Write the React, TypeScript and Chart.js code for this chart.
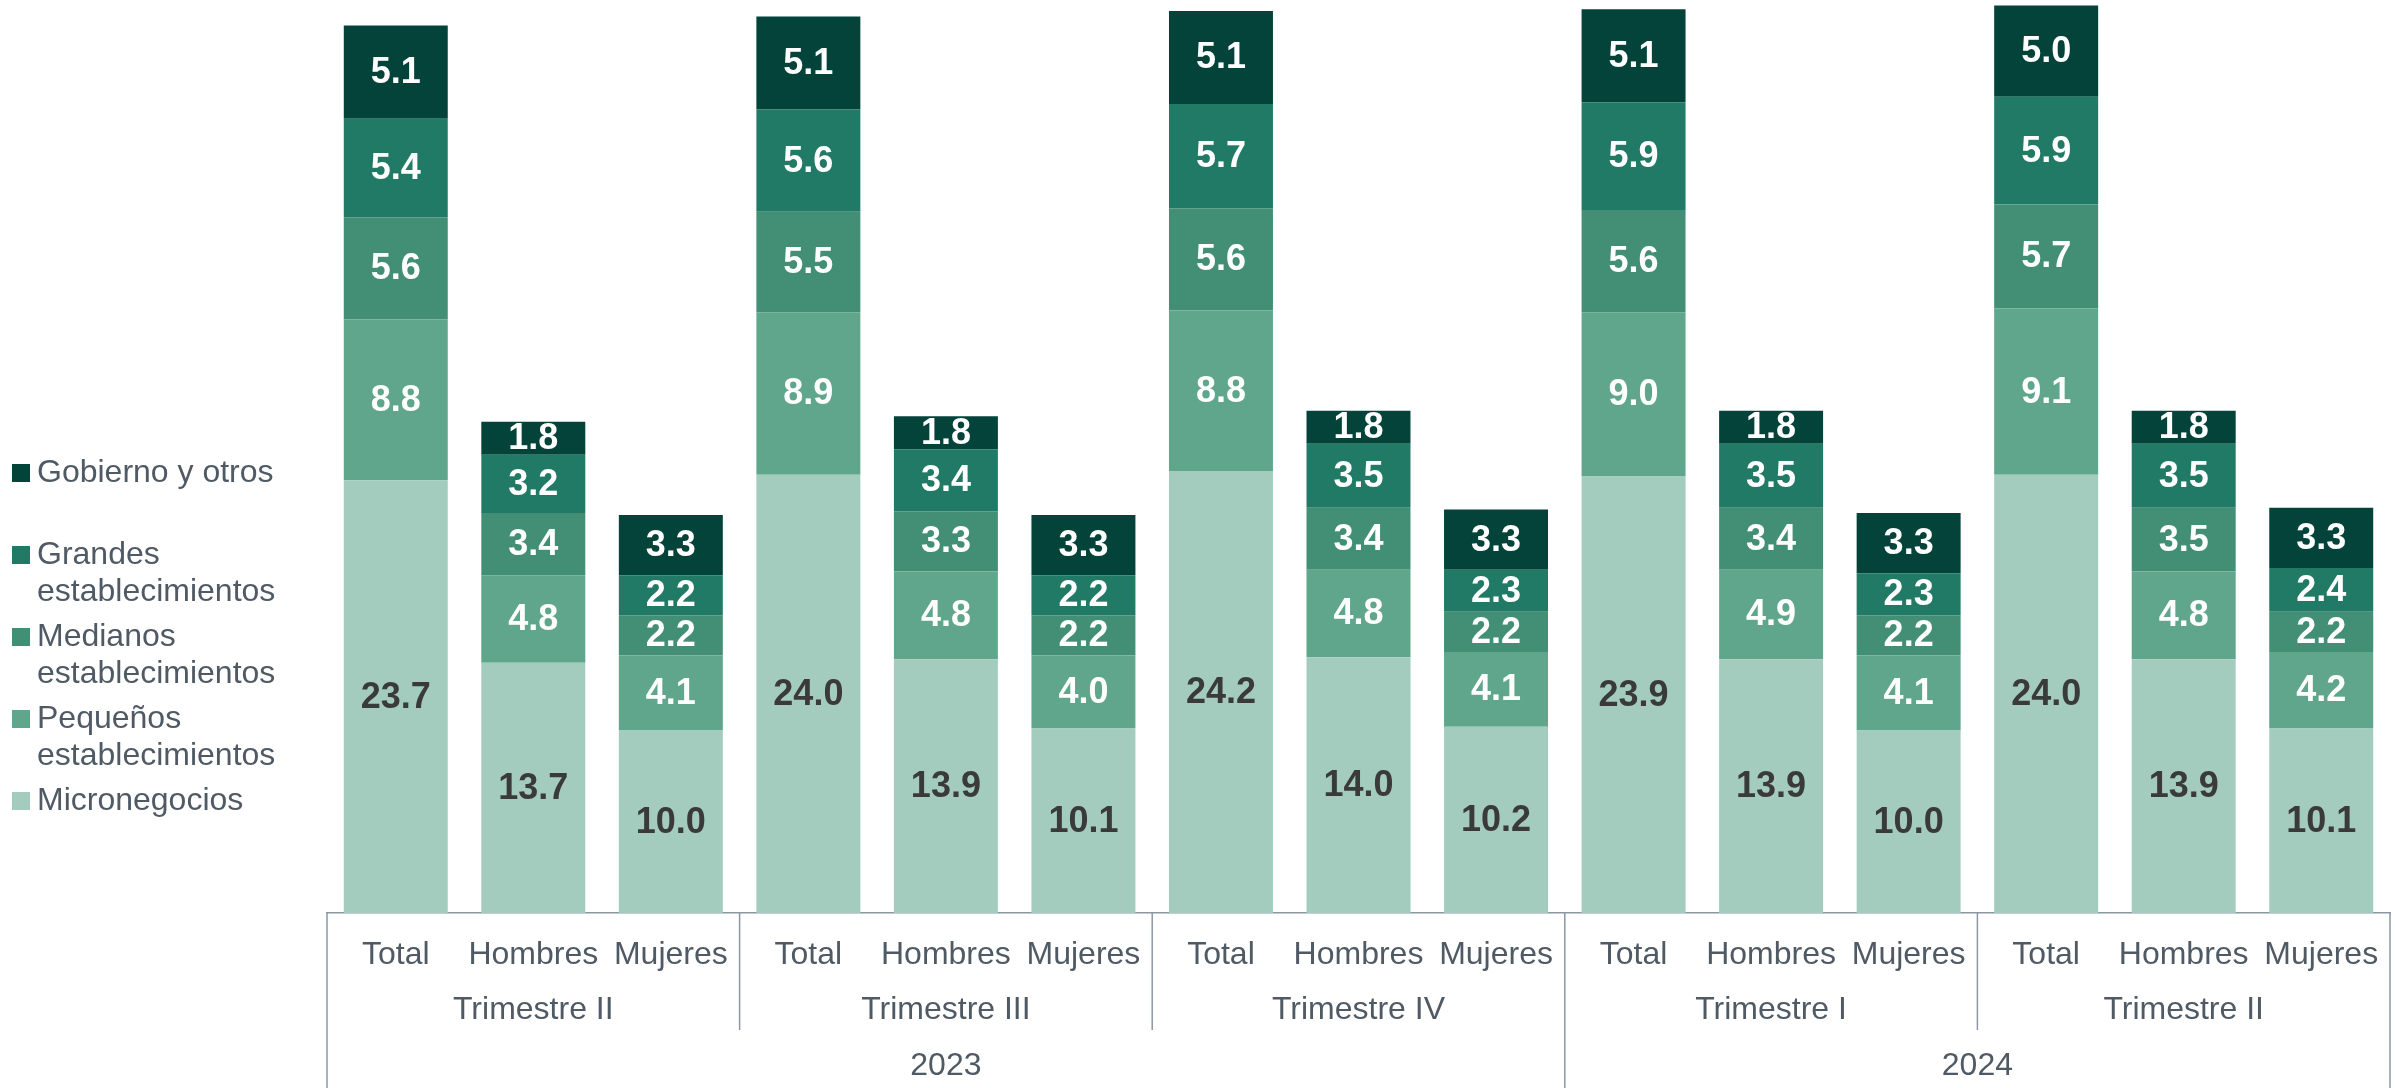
import React, { useEffect, useRef } from 'react';
import { Chart, registerables } from 'chart.js';

Chart.register(...registerables);

const subCategories = [
  'Total', 'Hombres', 'Mujeres',
  'Total', 'Hombres', 'Mujeres',
  'Total', 'Hombres', 'Mujeres',
  'Total', 'Hombres', 'Mujeres',
  'Total', 'Hombres', 'Mujeres',
];
const quarterLabels = ['Trimestre II', 'Trimestre III', 'Trimestre IV', 'Trimestre I', 'Trimestre II'];
const yearLabels = ['2023', '2024'];
const quartersPerYear = [3, 2];

const micronegocios = [23.7, 13.7, 10.0, 24.0, 13.9, 10.1, 24.2, 14.0, 10.2, 23.9, 13.9, 10.0, 24.0, 13.9, 10.1];
const pequenos = [8.8, 4.8, 4.1, 8.9, 4.8, 4.0, 8.8, 4.8, 4.1, 9.0, 4.9, 4.1, 9.1, 4.8, 4.2];
const medianos = [5.6, 3.4, 2.2, 5.5, 3.3, 2.2, 5.6, 3.4, 2.2, 5.6, 3.4, 2.2, 5.7, 3.5, 2.2];
const grandes = [5.4, 3.2, 2.2, 5.6, 3.4, 2.2, 5.7, 3.5, 2.3, 5.9, 3.5, 2.3, 5.9, 3.5, 2.4];
const gobierno = [5.1, 1.8, 3.3, 5.1, 1.8, 3.3, 5.1, 1.8, 3.3, 5.1, 1.8, 3.3, 5.0, 1.8, 3.3];

const seriesNames = [
  'Micronegocios',
  'Pequeños establecimientos',
  'Medianos establecimientos',
  'Grandes establecimientos',
  'Gobierno y otros',
];
// legend text lines (top to bottom order of the legend)
const legendLines: string[][] = [
  ['Gobierno y otros', ''],
  ['Grandes', 'establecimientos'],
  ['Medianos', 'establecimientos'],
  ['Pequeños', 'establecimientos'],
  ['Micronegocios'],
];

const COLORS = ['#A3CCBF', '#5FA68C', '#428F76', '#217A65', '#03433A'];
const FONT = '"Liberation Sans", Arial, Helvetica, sans-serif';
const TEXT_COLOR = '#4F5A65';
const LINE_COLOR = '#8A97A3';

const overlayPlugin = {
  id: 'overlay',
  afterDatasetsDraw(chart: any) {
    const ctx = chart.ctx;
    ctx.save();
    ctx.font = `bold 36px ${FONT}`;
    ctx.textAlign = 'center';
    ctx.textBaseline = 'middle';
    chart.data.datasets.forEach((ds: any, di: number) => {
      const meta = chart.getDatasetMeta(di);
      meta.data.forEach((bar: any, i: number) => {
        const v = ds.data[i];
        const cy = (bar.y + bar.base) / 2;
        ctx.fillStyle = di === 0 ? '#3A3A3A' : '#FFFFFF';
        ctx.fillText(Number(v).toFixed(1), bar.x, cy + 1);
      });
    });
    ctx.restore();
  },
  afterDraw(chart: any) {
    const ctx = chart.ctx;
    const xs = chart.scales.x;
    const area = chart.chartArea;
    const H = chart.height;
    const n = subCategories.length;
    const cw = (xs.right - xs.left) / n;
    const axisY = area.bottom;
    ctx.save();
    // separators
    ctx.strokeStyle = LINE_COLOR;
    ctx.lineWidth = 1.5;
    const qRowBottom = 1030;
    const yearBoundaries: number[] = [0];
    let acc = 0;
    quartersPerYear.forEach((q) => { acc += q; yearBoundaries.push(acc); });
    for (let q = 0; q <= quarterLabels.length; q++) {
      const x = xs.left + q * 3 * cw;
      const isYear = yearBoundaries.includes(q);
      ctx.beginPath();
      ctx.moveTo(x, axisY);
      ctx.lineTo(x, isYear ? H : qRowBottom);
      ctx.stroke();
    }
    // quarter labels
    ctx.fillStyle = TEXT_COLOR;
    ctx.font = `32px ${FONT}`;
    ctx.textAlign = 'center';
    ctx.textBaseline = 'middle';
    quarterLabels.forEach((lab, q) => {
      const x = xs.left + (q * 3 + 1.5) * cw;
      ctx.fillText(lab, x, 1010);
    });
    // year labels
    let start = 0;
    yearLabels.forEach((lab, yi) => {
      const span = quartersPerYear[yi] * 3;
      const x = xs.left + (start + span / 2) * cw;
      ctx.fillText(lab, x, 1066);
      start += span;
    });
    // legend
    const lineStep = 37;
    const itemGap = 45;
    let y = 473;
    legendLines.forEach((lines, li) => {
      const di = chart.data.datasets.length - 1 - li;
      const color = chart.data.datasets[di].backgroundColor;
      ctx.fillStyle = color;
      ctx.fillRect(12, y - 9, 18, 18);
      ctx.fillStyle = TEXT_COLOR;
      ctx.textAlign = 'left';
      lines.forEach((t, k) => {
        ctx.fillText(t, 37, y + k * lineStep);
      });
      y += (lines.length - 1) * lineStep + itemGap;
    });
    ctx.restore();
  },
};

export default function App() {
  const ref = useRef<HTMLCanvasElement>(null);
  useEffect(() => {
    if (!ref.current) return;
    const seriesData = [micronegocios, pequenos, medianos, grandes, gobierno];
    const chart = new Chart(ref.current, {
      type: 'bar',
      data: {
        labels: subCategories,
        datasets: seriesData.map((d, i) => ({
          label: seriesNames[i],
          data: d,
          backgroundColor: COLORS[i],
          borderWidth: 0,
          barPercentage: 0.756,
          categoryPercentage: 1,
        })),
      },
      options: {
        animation: false,
        responsive: false,
        maintainAspectRatio: false,
        layout: { padding: { left: 327, right: 5, top: 0, bottom: 0 } },
        plugins: {
          legend: { display: false },
          tooltip: { enabled: false },
        },
        scales: {
          x: {
            stacked: true,
            grid: { display: false },
            border: { display: true, color: LINE_COLOR, width: 1.5 },
            ticks: {
              color: TEXT_COLOR,
              font: { family: FONT, size: 32 },
              padding: 15,
              maxRotation: 0,
              autoSkip: false,
            },
            afterFit: (scale: any) => { scale.height = 175; },
          },
          y: {
            stacked: true,
            display: false,
            min: 0,
            max: 50,
          },
        },
      },
      plugins: [overlayPlugin],
    });
    return () => chart.destroy();
  }, []);
  return (
    <div style={{ position: 'absolute', left: 0, top: 0, width: 2395, height: 1088, background: '#fff' }}>
      <canvas ref={ref} width={2395} height={1088} style={{ display: 'block' }} />
    </div>
  );
}
